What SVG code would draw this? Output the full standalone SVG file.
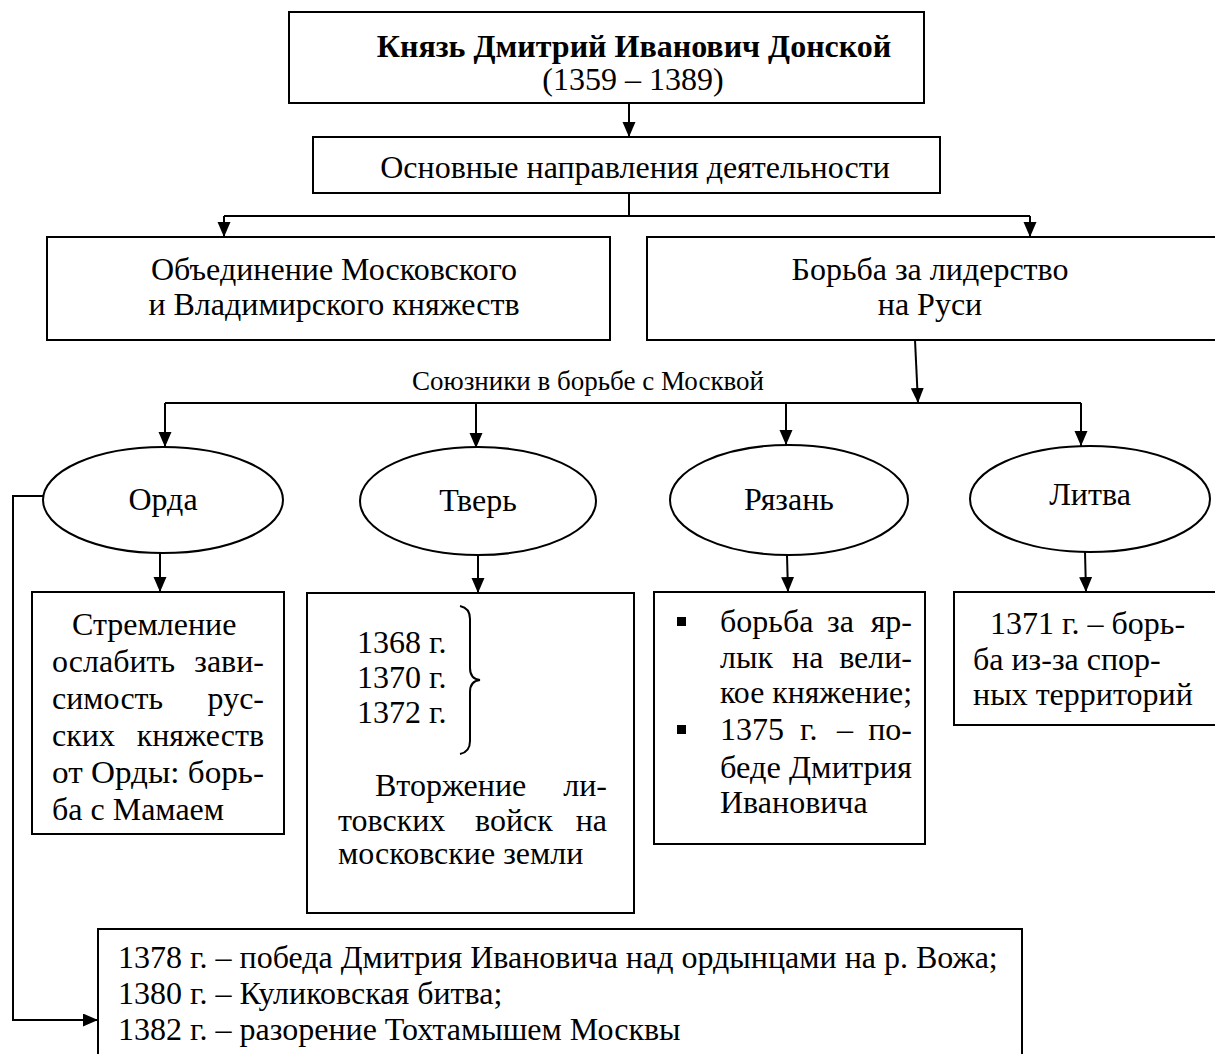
<svg xmlns="http://www.w3.org/2000/svg" width="1215" height="1054" viewBox="0 0 1215 1054">
<style>
text{font-family:"Liberation Serif","Times New Roman",serif;font-size:32px;fill:#000}
.c{text-anchor:middle}
.e{text-anchor:end}
.b{font-weight:bold}
.s{font-size:27px}
.box{fill:#fff;stroke:#000;stroke-width:2}
.ln{fill:none;stroke:#000;stroke-width:2}
</style>
<defs>
<marker id="ah" markerUnits="userSpaceOnUse" markerWidth="15" markerHeight="14" refX="15" refY="6.5" orient="auto">
<path d="M0,0 L15,6.5 L0,13 Z" fill="#000"/>
</marker>
</defs>
<rect width="1215" height="1054" fill="#fff"/>
<g id="connectors">
<line class="ln" x1="629" y1="103" x2="629" y2="137" marker-end="url(#ah)"/>
<line class="ln" x1="629" y1="193" x2="629" y2="217"/>
<line class="ln" x1="224" y1="216" x2="1030" y2="216"/>
<line class="ln" x1="224" y1="216" x2="224" y2="237" marker-end="url(#ah)"/>
<line class="ln" x1="1030" y1="216" x2="1030" y2="237" marker-end="url(#ah)"/>
<line class="ln" x1="915" y1="340" x2="918" y2="403" marker-end="url(#ah)"/>
<line class="ln" x1="165" y1="403" x2="1081" y2="403"/>
<line class="ln" x1="165" y1="403" x2="165" y2="447" marker-end="url(#ah)"/>
<line class="ln" x1="476" y1="403" x2="476" y2="448" marker-end="url(#ah)"/>
<line class="ln" x1="786" y1="403" x2="786" y2="445" marker-end="url(#ah)"/>
<line class="ln" x1="1081" y1="403" x2="1081" y2="446" marker-end="url(#ah)"/>
<line class="ln" x1="160" y1="553" x2="160" y2="592" marker-end="url(#ah)"/>
<line class="ln" x1="478" y1="555" x2="478" y2="593" marker-end="url(#ah)"/>
<line class="ln" x1="787" y1="555" x2="788" y2="592" marker-end="url(#ah)"/>
<line class="ln" x1="1085" y1="552" x2="1086" y2="592" marker-end="url(#ah)"/>
<polyline class="ln" points="43,496 13,496 13,1020 98,1020" marker-end="url(#ah)"/>
</g>
<g id="title">
<rect class="box" x="289" y="12" width="635" height="91"/>
<text class="c b" x="634" y="57">Князь Дмитрий Иванович Донской</text>
<text class="c" x="633" y="90">(1359 – 1389)</text>
</g>
<g id="directions">
<rect class="box" x="313" y="137" width="627" height="56"/>
<text class="c" x="635" y="178">Основные направления деятельности</text>
</g>
<g id="unification">
<rect class="box" x="47" y="237" width="563" height="103"/>
<text class="c" x="334" y="280">Объединение Московского</text>
<text class="c" x="334" y="315">и Владимирского княжеств</text>
</g>
<g id="leadership">
<rect class="box" x="647" y="237" width="570" height="103"/>
<text class="c" x="930" y="280">Борьба за лидерство</text>
<text class="c" x="930" y="315">на Руси</text>
</g>
<g id="allies-label">
<text class="c s" x="588" y="390">Союзники в борьбе с Москвой</text>
</g>
<g id="orda">
<ellipse class="box" cx="163" cy="500" rx="120" ry="53"/>
<text class="c" x="163" y="510">Орда</text>
</g>
<g id="tver">
<ellipse class="box" cx="478" cy="501" rx="118" ry="54"/>
<text class="c" x="478" y="511">Тверь</text>
</g>
<g id="ryazan">
<ellipse class="box" cx="789" cy="500" rx="119" ry="55"/>
<text class="c" x="789" y="510">Рязань</text>
</g>
<g id="litva">
<ellipse class="box" cx="1090" cy="499" rx="120" ry="53"/>
<text class="c" x="1090" y="505">Литва</text>
</g>
<g id="orda-box">
<rect class="box" x="32" y="592" width="252" height="242"/>
<text x="72" y="635">Стремление</text>
<text x="52" y="672">ослабить</text><text class="e" x="264" y="672">зави-</text>
<text x="52" y="709">симость</text><text class="e" x="264" y="709">рус-</text>
<text x="52" y="746">ских</text><text class="e" x="264" y="746">княжеств</text>
<text x="52" y="783" textLength="212" lengthAdjust="spacingAndGlyphs">от Орды: борь-</text>
<text x="52" y="820">ба с Мамаем</text>
</g>
<g id="tver-box">
<rect class="box" x="307" y="593" width="327" height="320"/>
<text x="357" y="653">1368 г.</text>
<text x="357" y="688">1370 г.</text>
<text x="357" y="723">1372 г.</text>
<path class="ln" d="M460,606 Q470,608 470,619 L470,668 Q470,679 480,680 Q470,681 470,692 L470,741 Q470,752 460,754"/>
<text x="375" y="796">Вторжение</text><text class="e" x="607" y="796">ли-</text>
<text x="338" y="831">товских</text><text x="475" y="831">войск</text><text class="e" x="607" y="831">на</text>
<text x="338" y="864">московские земли</text>
</g>
<g id="ryazan-box">
<rect class="box" x="654" y="592" width="271" height="252"/>
<rect x="677" y="617" width="9" height="9" fill="#000"/>
<text x="720" y="632">борьба</text><text x="827" y="632">за</text><text class="e" x="912" y="632">яр-</text>
<text x="720" y="668">лык</text><text x="792" y="668">на</text><text class="e" x="912" y="668">вели-</text>
<text x="720" y="703" textLength="192" lengthAdjust="spacingAndGlyphs">кое княжение;</text>
<rect x="677" y="725" width="9" height="9" fill="#000"/>
<text x="720" y="740">1375</text><text x="800" y="740">г.</text><text x="837" y="740">–</text><text class="e" x="912" y="740">по-</text>
<text x="720" y="778" textLength="192" lengthAdjust="spacingAndGlyphs">беде Дмитрия</text>
<text x="720" y="813">Ивановича</text>
</g>
<g id="litva-box">
<rect class="box" x="954" y="592" width="263" height="133"/>
<text x="990" y="634">1371 г. – борь-</text>
<text x="973" y="670">ба из-за спор-</text>
<text x="973" y="705">ных территорий</text>
</g>
<g id="events-box">
<path class="box" d="M98,1060 L98,929 L1022,929 L1022,1060"/>
<text x="118" y="968">1378 г. – победа Дмитрия Ивановича над ордынцами на р. Вожа;</text>
<text x="118" y="1004">1380 г. – Куликовская битва;</text>
<text x="118" y="1040">1382 г. – разорение Тохтамышем Москвы</text>
</g>
</svg>
